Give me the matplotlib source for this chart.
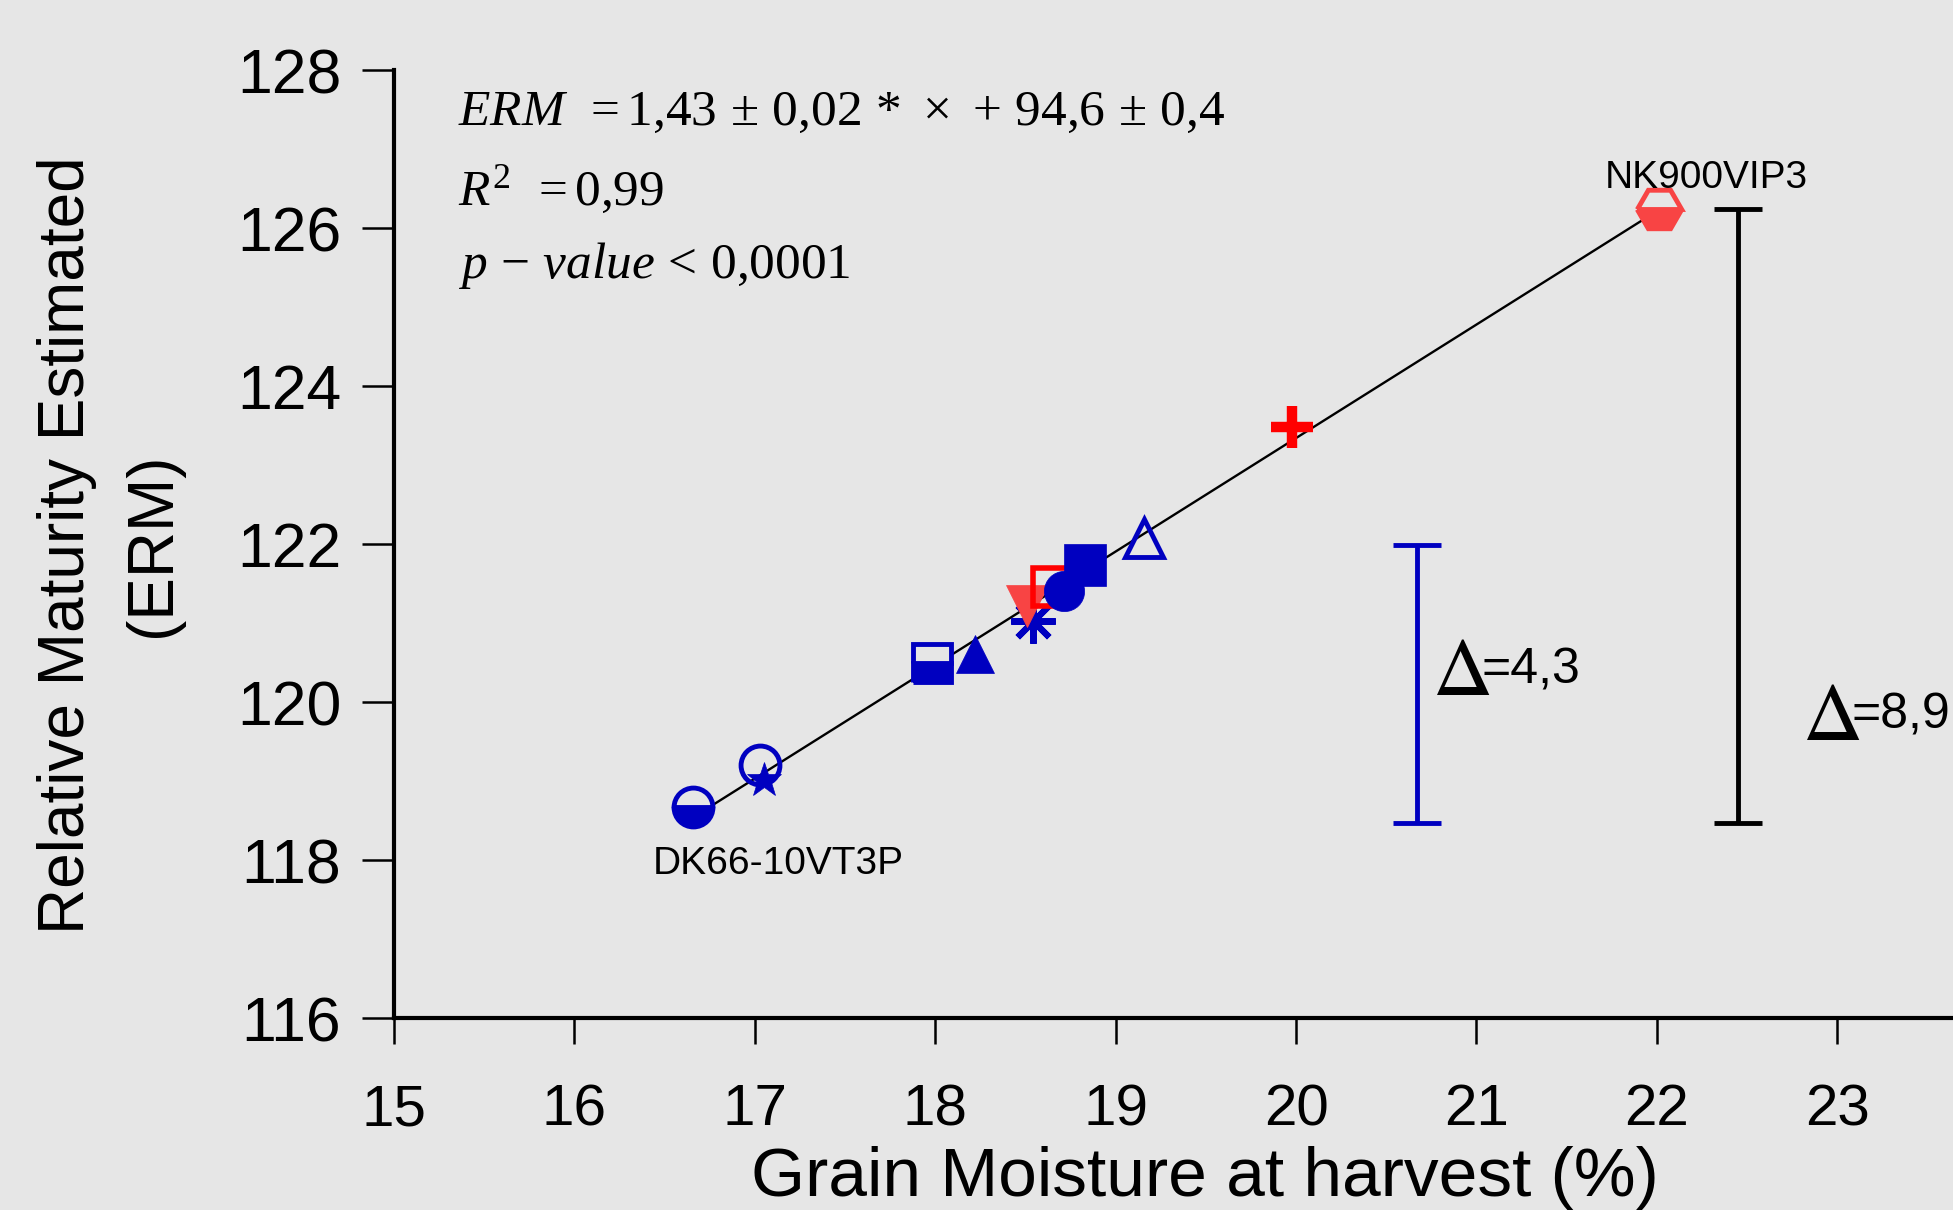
import numpy as np
import matplotlib
matplotlib.use("Agg")
import matplotlib.pyplot as plt

# ---------------- data ----------------
moisture = [16.66, 17.03, 17.05, 17.98, 18.22, 18.54, 18.51, 18.645, 18.715, 18.83, 19.16, 19.98, 22.01]
erm      = [118.67, 119.20, 119.01, 120.49, 120.61, 121.02, 121.21, 121.45, 121.41, 121.74, 122.08, 123.48, 126.24]

range_x_blue = 20.67
range_blue = [118.47, 121.99]
range_x_black = 22.45
range_black = [118.47, 126.24]

xticks = [15, 16, 17, 18, 19, 20, 21, 22, 23]
yticks = [116, 118, 120, 122, 124, 126, 128]

label_low = "DK66-10VT3P"
label_high = "NK900VIP3"
delta_blue = "=4,3"
delta_black = "=8,9"

# ---------------- styles ----------------
BG = "#e6e6e6"
BLUE = "#0000c0"
RED = "#ff0000"
LRED = "#f84444"

styles = [
    dict(marker="o", color=BLUE, ms=28, mew=3.5, fillstyle="bottom", markerfacecoloralt=BG, mec=BLUE),
    dict(marker="o", color=BLUE, ms=28, mew=3.5, mfc="none", mec=BLUE),
    dict(marker="*", color=BLUE, ms=26, mew=0.5, mec=BLUE),
    dict(marker="s", color=BLUE, ms=27, mew=3.5, fillstyle="bottom", markerfacecoloralt=BG, mec=BLUE),
    dict(marker="^", color=BLUE, ms=28, mew=0.5, mec=BLUE),
    dict(marker=(8, 2, 0), color=BLUE, ms=32, mew=4.5, mec=BLUE),
    dict(marker="v", color=LRED, ms=30, mew=0.5, mec=LRED),
    dict(marker="s", color=RED, ms=27, mew=4, mfc="none", mec=RED),
    dict(marker="o", color=BLUE, ms=29, mew=0.5, mec=BLUE),
    dict(marker="s", color=BLUE, ms=30, mew=0.5, mec=BLUE),
    dict(marker="^", color=BLUE, ms=28, mew=3.5, mfc="none", mec=BLUE),
    dict(marker="+", color=RED, ms=30, mew=7.5, mec=RED),
    dict(marker="H", color=LRED, ms=32, mew=3.5, fillstyle="bottom", markerfacecoloralt=BG, mec=LRED),
]

plt.rcParams["mathtext.fontset"] = "custom"
plt.rcParams["mathtext.rm"] = "Liberation Serif"
plt.rcParams["mathtext.it"] = "Liberation Serif:italic"
plt.rcParams["font.family"] = ["Liberation Sans", "DejaVu Sans"]

W, H = 1953, 1210
fig = plt.figure(figsize=(W / 100, H / 100), dpi=100, facecolor=BG)
ax = fig.add_axes([394 / W, (H - 1018) / H, (W - 394) / W, (1018 - 70) / H])
ax.set_facecolor(BG)

# regression line
coef = np.polyfit(moisture, erm, 1)
xx = np.array([min(moisture), max(moisture)])
ax.plot(xx, np.polyval(coef, xx), color="black", lw=1.7, zorder=2)

for x, y, st in zip(moisture, erm, styles):
    ax.plot([x], [y], linestyle="none", zorder=3, **st)

# range bars
ax.errorbar([range_x_blue], [np.mean(range_blue)], yerr=[[np.mean(range_blue) - range_blue[0]], [range_blue[1] - np.mean(range_blue)]],
            fmt="none", ecolor=BLUE, elinewidth=3.5, capsize=17, capthick=3.5, zorder=2)
ax.errorbar([range_x_black], [np.mean(range_black)], yerr=[[np.mean(range_black) - range_black[0]], [range_black[1] - np.mean(range_black)]],
            fmt="none", ecolor="black", elinewidth=3.5, capsize=17, capthick=3.5, zorder=2)

# axes formatting
ax.set_xlim(15, 15 + (W - 394) / 180.4)
ax.set_ylim(116, 128)
ax.set_xticks(xticks)
ax.set_yticks(yticks)
ax.set_xticklabels([str(t) for t in xticks])
ax.set_yticklabels([str(t) for t in yticks])
for s in ["top", "right"]:
    ax.spines[s].set_visible(False)
for s in ["left", "bottom"]:
    ax.spines[s].set_linewidth(3)
ax.tick_params(axis="y", direction="out", length=23, width=1.8, pad=15, labelsize=45)
ax.tick_params(axis="x", direction="out", length=19, width=1.8, pad=28, labelsize=42)

# labels
fig.text(1205 / W, (H - 1196) / H, "Grain Moisture at harvest (%)", ha="center", va="baseline", fontsize=50)
fig.text(110 / W, (H - 545) / H, "Relative Maturity Estimated\n(ERM)", rotation=90, ha="center", va="center",
         multialignment="center", fontsize=46, linespacing=1.55)

# equation
ax.text(15.355, 127.30, r"$ERM\ \,=1{,}43\,\pm\,0{,}02\,*\,\times\,+\,94{,}6\,\pm\,0{,}4$", fontsize=37, va="baseline", ha="left")
ax.text(15.355, 126.29, r"$R^{2}\ \,=0{,}99$", fontsize=37, va="baseline", ha="left")
ax.text(15.355, 125.37, r"$p\,-\,value\,<\,0{,}0001$", fontsize=37, va="baseline", ha="left")

# point labels
ax.text(16.436, 117.82, label_low, fontsize=28, va="baseline", ha="left")
ax.text(21.71, 126.51, label_high, fontsize=28, va="baseline", ha="left")

# delta annotations
ax.text(20.754, 120.09, r"$\Delta$", math_fontfamily="stix", fontsize=60, va="baseline", ha="left")
ax.text(21.03, 120.23, delta_blue, fontsize=36, va="baseline", ha="left")
ax.text(22.805, 119.52, r"$\Delta$", math_fontfamily="stix", fontsize=60, va="baseline", ha="left", clip_on=False)
ax.text(23.08, 119.66, delta_black, fontsize=36, va="baseline", ha="left", clip_on=False)

fig.savefig("out.png", dpi=100, facecolor=BG)
